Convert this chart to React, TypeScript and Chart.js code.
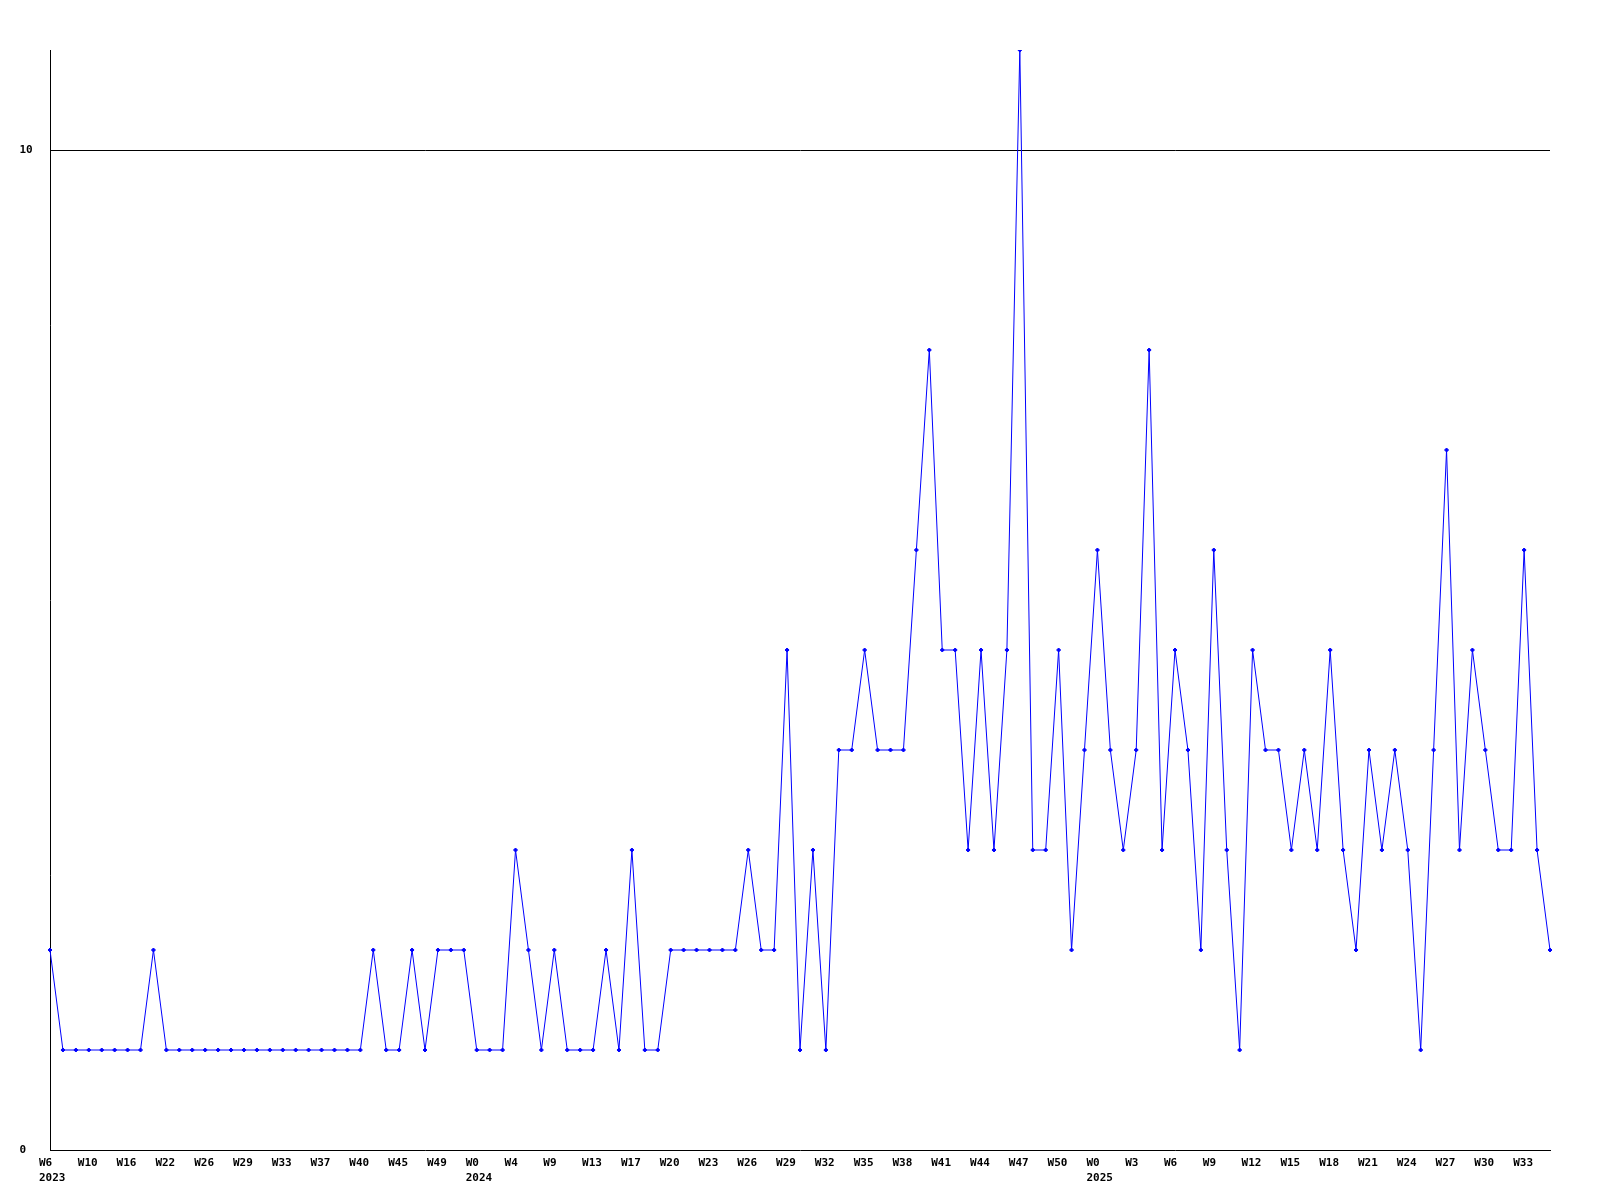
import React, { useEffect, useRef } from "react";
import { Chart, registerables } from "chart.js";

Chart.register(...registerables);

// Weekly counts, one per data point (117 points, 2023 W6 .. 2025 W35)
const counts: number[] = [
  2, 1, 1, 1, 1, 1, 1, 1, 2, 1,
  1, 1, 1, 1, 1, 1, 1, 1, 1, 1,
  1, 1, 1, 1, 1, 2, 1, 1, 2, 1,
  2, 2, 2, 1, 1, 1, 3, 2, 1, 2,
  1, 1, 1, 2, 1, 3, 1, 1, 2, 2,
  2, 2, 2, 2, 3, 2, 2, 5, 1, 3,
  1, 4, 4, 5, 4, 4, 4, 6, 8, 5,
  5, 3, 5, 3, 5, 11, 3, 3, 5, 2,
  4, 6, 4, 3, 4, 8, 3, 5, 4, 2,
  6, 3, 1, 5, 4, 4, 3, 4, 3, 5,
  3, 2, 4, 3, 4, 3, 1, 4, 7, 3,
  5, 4, 3, 3, 6, 3, 2,
];

// Tick labels shown on every third point
const weekTickLabels: string[] = [
  "W6", "W10", "W16", "W22", "W26", "W29", "W33", "W37", "W40", "W45", "W49",
  "W0", "W4", "W9", "W13", "W17", "W20", "W23", "W26", "W29", "W32", "W35",
  "W38", "W41", "W44", "W47", "W50",
  "W0", "W3", "W6", "W9", "W12", "W15", "W18", "W21", "W24", "W27", "W30", "W33",
];

// Year shown under the given week tick (index into weekTickLabels)
const yearTickIndex: number[] = [0, 11, 27];
const yearNames: string[] = ["2023", "2024", "2025"];

const yTickValues: number[] = [0, 10];
const labelEvery = 3;

const FONT = { family: "'DejaVu Sans Mono', monospace", size: 11, weight: "bold" as const, lineHeight: 1.33 };

export default function App() {
  const canvasRef = useRef<HTMLCanvasElement | null>(null);

  useEffect(() => {
    const canvas = canvasRef.current;
    if (!canvas) return;

    const categories = counts.map((_, i) => {
      if (i % labelEvery !== 0) return "";
      const t = i / labelEvery;
      const w = weekTickLabels[t] ?? "";
      const yi = yearTickIndex.indexOf(t);
      return yi >= 0 ? [w, yearNames[yi]] : w;
    });

    const chart = new Chart(canvas, {
      type: "line",
      data: {
        labels: categories as any,
        datasets: [
          {
            data: counts,
            borderColor: "#0000ff",
            backgroundColor: "#0000ff",
            borderWidth: 1,
            tension: 0,
            pointStyle: "rectRot",
            pointRadius: 2,
            pointBorderWidth: 1,
            pointBorderColor: "#0000ff",
            pointBackgroundColor: "#0000ff",
            fill: false,
          },
        ],
      },
      options: {
        responsive: false,
        animation: false,
        events: [],
        layout: { padding: { left: 19.5, right: 50, top: 50, bottom: 0 } },
        plugins: {
          legend: { display: false },
          tooltip: { enabled: false },
          title: { display: false },
        },
        scales: {
          x: {
            type: "category",
            offset: false,
            grid: { display: true, drawOnChartArea: false, drawTicks: false, color: "transparent" },
            border: { display: true, color: "#000000", width: 1 },
            ticks: {
              autoSkip: false,
              maxRotation: 0,
              minRotation: 0,
              align: "start",
              labelOffset: -11,
              padding: 6,
              color: "#000000",
              font: FONT,
            },
            afterFit: (scale: any) => {
              scale.height = 50;
            },
          },
          y: {
            type: "linear",
            min: 0,
            max: 11,
            afterBuildTicks: (scale: any) => {
              scale.ticks = yTickValues.map((v) => ({ value: v }));
            },
            grid: {
              drawTicks: false,
              color: (ctx: any) => (ctx.tick && ctx.tick.value === 10 ? "#000000" : "transparent"),
              lineWidth: 1,
            },
            border: { display: true, color: "#000000", width: 1 },
            ticks: {
              crossAlign: "far",
              padding: 17,
              color: "#000000",
              font: FONT,
              callback: (v: any) => String(v),
            },
            afterFit: (scale: any) => {
              scale.width = 30.5;
            },
          },
        },
      },
    });

    return () => {
      chart.destroy();
    };
  }, []);

  return (
    <canvas
      ref={canvasRef}
      width={1600}
      height={1200}
      style={{ position: "absolute", left: 0, top: 0, width: 1600, height: 1200, background: "#ffffff" }}
    />
  );
}
